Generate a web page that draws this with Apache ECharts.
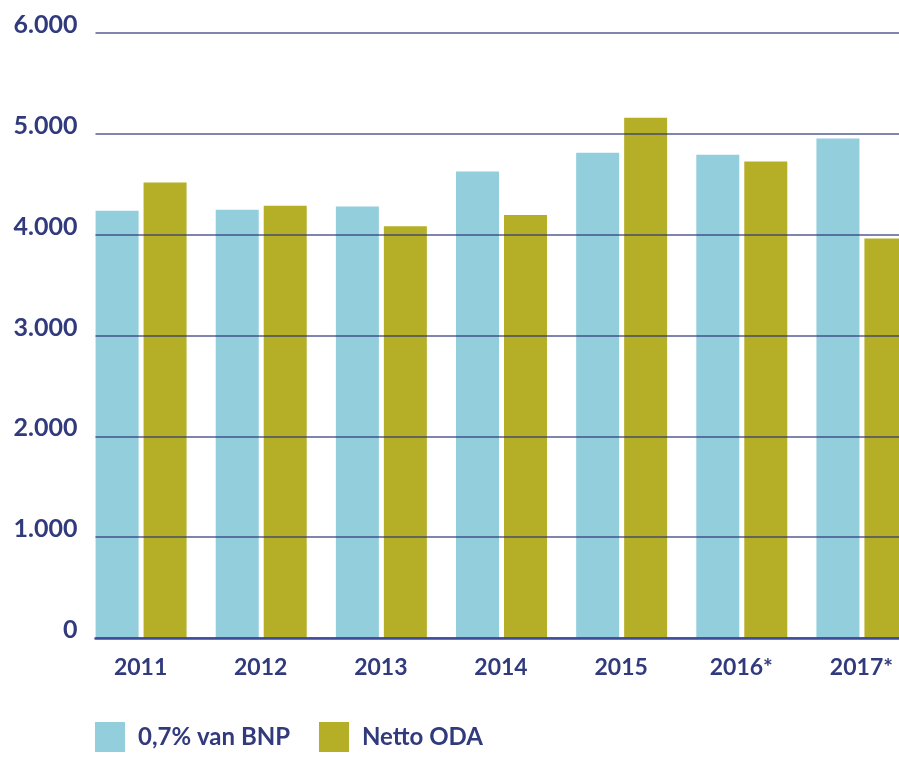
<!DOCTYPE html>
<html>
<head>
<meta charset="utf-8">
<script src="https://cdn.jsdelivr.net/npm/echarts@6/dist/echarts.min.js"></script>
<style>
  html, body { margin: 0; padding: 0; background: #ffffff; overflow: hidden; }
  #chart { width: 940px; height: 760px; }
</style>
</head>
<body>
<div id="chart"></div>
<script>
  const years = ['2011', '2012', '2013', '2014', '2015', '2016*', '2017*']
  const bnpValues = [4236, 4246, 4280, 4627, 4812, 4792, 4954]
  const odaValues = [4518, 4286, 4084, 4196, 5159, 4726, 3962]
  const seriesNames = ['0,7% van BNP', 'Netto ODA']
  const yTicks = { min: 0, max: 6000, interval: 1000 }

  const textColor = '#313a7c'
  const fontFamily = 'Lato, "Open Sans", sans-serif'

  const chart = echarts.init(document.getElementById('chart'))
  const option = {
    backgroundColor: '#ffffff',
    animation: false,
    grid: {
      left: 95.5,
      top: 33,
      right: 3.5,
      height: 605
    },
    legend: [{
      data: [seriesNames[0]],
      left: 90,
      top: 717,
      icon: 'rect',
      itemWidth: 30,
      itemHeight: 30,
      textStyle: { color: textColor, fontSize: 24, fontWeight: 'bold', fontFamily: fontFamily, padding: [0, 0, 0, 8] }
    }, {
      data: [seriesNames[1]],
      left: 314,
      top: 717,
      icon: 'rect',
      itemWidth: 30,
      itemHeight: 30,
      textStyle: { color: textColor, fontSize: 24, fontWeight: 'bold', fontFamily: fontFamily, padding: [0, 0, 0, 8] }
    }],
    xAxis: {
      type: 'category',
      data: years,
      z: 3,
      axisTick: { show: false },
      axisLine: { lineStyle: { color: '#3f4b9b', width: 2.5 } },
      axisLabel: {
        color: textColor,
        fontSize: 23,
        fontWeight: 'bold',
        fontFamily: fontFamily,
        margin: 18,
        padding: [0, 30, 0, 0]
      }
    },
    yAxis: {
      type: 'value',
      min: yTicks.min,
      max: yTicks.max,
      interval: yTicks.interval,
      z: 3,
      axisLine: { show: false },
      axisTick: { show: false },
      splitLine: { lineStyle: { color: 'rgba(45, 50, 120, 0.8)', width: 1.5 } },
      axisLabel: {
        color: textColor,
        fontSize: 25,
        fontWeight: 'bold',
        fontFamily: fontFamily,
        margin: 18,
        verticalAlign: 'bottom',
        lineHeight: 16,
        formatter: function (v) {
          return v >= 1000 ? Math.floor(v / 1000) + '.' + String(v % 1000).padStart(3, '0') : String(v)
        }
      }
    },
    series: [{
      name: seriesNames[0],
      type: 'bar',
      data: bnpValues,
      barWidth: 43,
      barGap: '11.6%',
      barCategoryGap: '0%',
      itemStyle: { color: '#93cedd' }
    }, {
      name: seriesNames[1],
      type: 'bar',
      data: odaValues,
      barWidth: 43,
      barGap: '11.6%',
      barCategoryGap: '0%',
      itemStyle: { color: '#b5af28' }
    }, {
      // empty series that only reserves the space between groups
      name: 'spacer',
      type: 'bar',
      data: years.map(() => null),
      barWidth: 24,
      barGap: '11.6%',
      barCategoryGap: '0%',
      silent: true
    }]
  }
  chart.setOption(option)
</script>
</body>
</html>
